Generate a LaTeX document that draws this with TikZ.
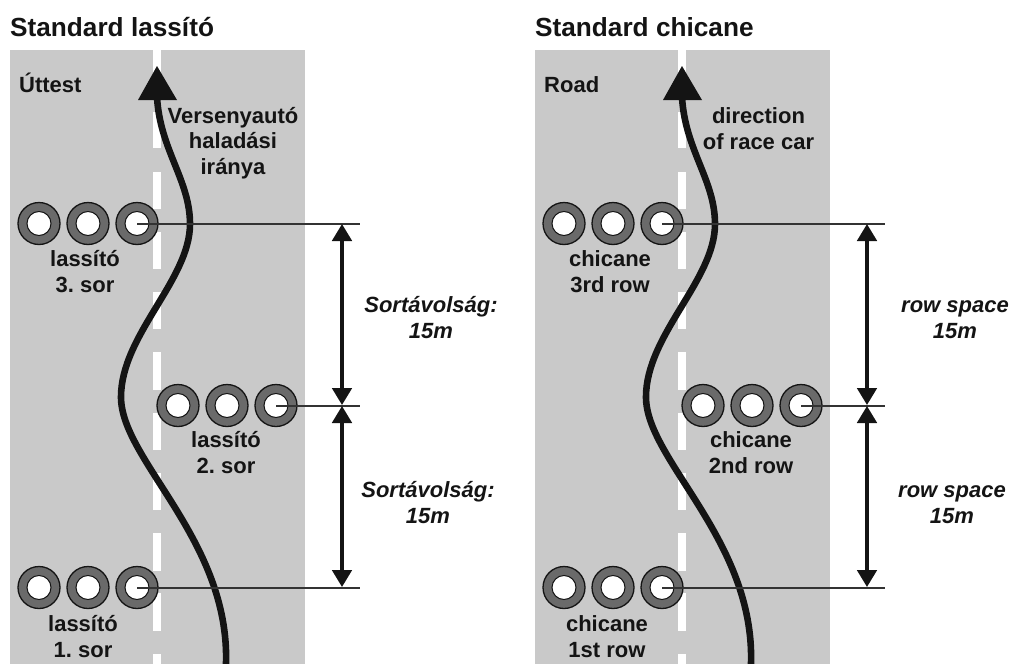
\documentclass[tikz,border=0pt]{standalone}
\usepackage{fontspec}
\setmainfont{Liberation Sans}
\frenchspacing
\usetikzlibrary{arrows.meta}
\definecolor{roadgrey}{HTML}{C9C9C9}
\definecolor{tyregrey}{HTML}{6A6A6A}
\definecolor{ink}{HTML}{141414}
\definecolor{rowink}{HTML}{333333}
\tikzset{
  x=1pt,y=-1pt,
  road/.style={fill=roadgrey,draw=none},
  lanedash/.style={fill=white,draw=none},
  tyre/.style={circle,draw=ink,line width=1.3pt,fill=tyregrey,minimum size=42pt,inner sep=0pt},
  hole/.style={circle,draw=ink,line width=1pt,fill=white,minimum size=24pt,inner sep=0pt},
  course/.style={draw=ink,line width=6.6pt,line cap=butt,line join=round},
  coursehead/.style={fill=ink,draw=none},
  rowline/.style={draw=rowink,line width=2pt},
  dimarrow/.style={draw=ink,line width=3.4pt,{Triangle[length=17pt,width=19.5pt]}-{Triangle[length=17pt,width=19.5pt]}},
  heading/.style={font=\bfseries\fontsize{26.2}{30}\selectfont,text=ink,inner sep=0pt,anchor=base west},
  roadname/.style={font=\bfseries\fontsize{22}{25.5}\selectfont,text=ink,inner sep=0pt,anchor=base west},
  lbl/.style={font=\bfseries\fontsize{22}{25.5}\selectfont,text=ink,inner sep=0pt,align=center,anchor=base},
  dimlbl/.style={font=\bfseries\itshape\fontsize{22}{25.5}\selectfont,text=ink,inner sep=0pt,align=center,anchor=base},
}
\newcommand{\tyreat}[3]{%
  \node[tyre] (#1) at (#2,#3) {};
  \node[hole] (#1h) at (#1.center) {};
}
\newcommand{\panel}[1]{%
  \fill[road] (10,50) rectangle (305,664);
  \foreach \a/\b in {50/88,112/148,172/209,232/269,292/329,352/390,413/450,473/510,533/571,593/631,654/664}
    \fill[lanedash] (153,\a) rectangle (161,\b);
  \draw[course] (157,97) .. controls (160,150) and (190,180) .. (190,224)
     .. controls (190,280) and (121,335) .. (121,397)
     .. controls (121,460) and (230,540) .. (226,664);
  \fill[coursehead] (157,66) -- (177,100) -- (138,100) -- cycle;
  \tyreat{#1a}{39}{223.5}
  \tyreat{#1b}{88}{223.5}
  \tyreat{#1c}{137}{223.5}
  \tyreat{#1d}{178}{405.5}
  \tyreat{#1e}{227}{405.5}
  \tyreat{#1f}{276}{405.5}
  \tyreat{#1g}{39}{587.5}
  \tyreat{#1h}{88}{587.5}
  \tyreat{#1i}{137}{587.5}
  \coordinate (#1end3) at (360,223.5);
  \coordinate (#1end2) at (360,405.5);
  \coordinate (#1end1) at (360,587.5);
  \coordinate (#1top) at (342,224);
  \coordinate (#1midA) at (342,405);
  \coordinate (#1midB) at (342,406);
  \coordinate (#1bot) at (342,587);
  \draw[rowline] (#1c.center) -- (#1end3);
  \draw[rowline] (#1f.center) -- (#1end2);
  \draw[rowline] (#1i.center) -- (#1end1);
  \draw[dimarrow] (#1top) -- (#1midA);
  \draw[dimarrow] (#1midB) -- (#1bot);
}
\begin{document}
\begin{tikzpicture}
\useasboundingbox (0,0) rectangle (1013,664);
\begin{scope}
  \panel{l}
\end{scope}
\begin{scope}[xshift=525pt]
  \panel{r}
\end{scope}
\node[heading] (ltitle) at (10,36) {Standard lassító};
\node[heading] (rtitle) at (535,36) {Standard chicane};
\node[roadname] (lroad) at (19,92) {Úttest};
\node[roadname] (rroad) at (544,92) {Road};
\node[lbl] (ldir) at (233,174) {Versenyautó\\haladási\\iránya};
\node[lbl] (rdir) at (758.5,149) {direction\\of race car};
\node[lbl] (l3) at (85,292) {lassító\\3. sor};
\node[lbl] (l2) at (226,473) {lassító\\2. sor};
\node[lbl] (l1) at (83,657) {lassító\\1. sor};
\node[lbl] (r3) at (610,292) {chicane\\3rd row};
\node[lbl] (r2) at (751,473) {chicane\\2nd row};
\node[lbl] (r1) at (607,657) {chicane\\1st row};
\node[dimlbl] (ld1) at (431,338) {Sortávolság:\\15m};
\node[dimlbl] (ld2) at (428,523) {Sortávolság:\\15m};
\node[dimlbl] (rd1) at (955,338) {row space\\15m};
\node[dimlbl] (rd2) at (952,523) {row space\\15m};
\end{tikzpicture}
\end{document}
